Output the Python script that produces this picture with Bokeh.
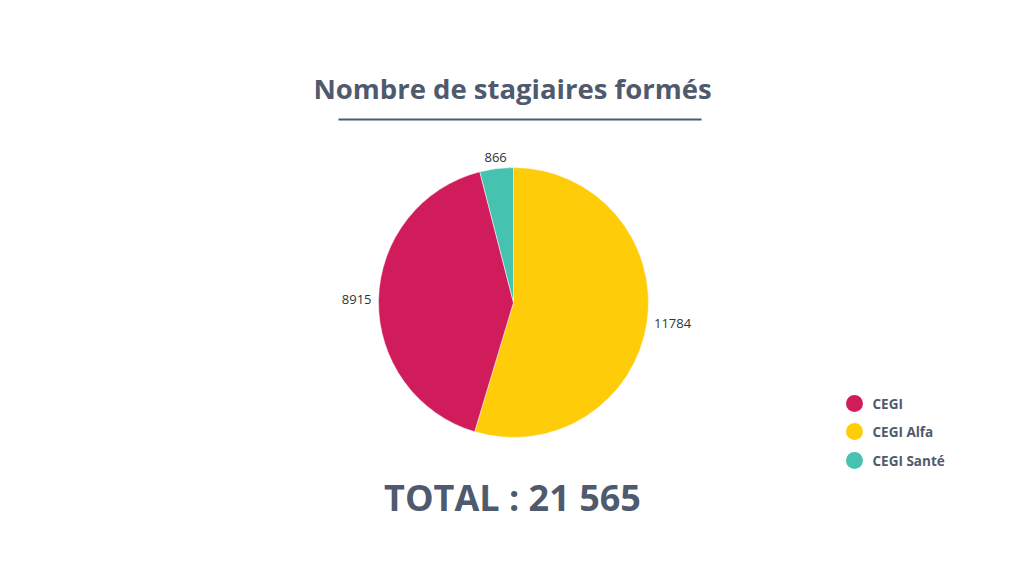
import numpy as np
from bokeh.plotting import figure
from bokeh.models import Range1d, ColumnDataSource
from bokeh.core.properties import value
from bokeh.embed import file_html
from bokeh.resources import INLINE

# ---- data ----
categories = ["CEGI", "CEGI Alfa", "CEGI Santé"]
counts = [8915, 11784, 866]
colors = ["#D01C5B", "#FFCC0A", "#46C2B0"]
# drawing order clockwise from 12 o'clock
pie_order = ["CEGI Alfa", "CEGI", "CEGI Santé"]
title_text = "Nombre de stagiaires formés"
total_text = "TOTAL : 21 565"

W, H = 1008, 560
TXT = "#4F5A6E"
FONT = "Open Sans"

p = figure(width=W, height=H, output_backend="svg", toolbar_location=None,
           x_range=Range1d(0, W), y_range=Range1d(0, H), min_border=0)
p.axis.visible = False
p.grid.visible = False
p.outline_line_color = None
p.background_fill_color = "white"
p.border_fill_color = "white"

def Y(page_y):
    return H - page_y

def X(page_x):
    return page_x

cx, cy, R = X(513), Y(302), 135

vals = np.array([counts[categories.index(c)] for c in pie_order], dtype=float)
cols = [colors[categories.index(c)] for c in pie_order]
frac = vals / vals.sum()
cum = np.concatenate([[0], np.cumsum(frac)])
start = np.pi / 2 - cum[:-1] * 2 * np.pi
end = np.pi / 2 - cum[1:] * 2 * np.pi

src = ColumnDataSource(dict(start=start, end=end, color=cols))
p.wedge(x=cx, y=cy, radius=R, radius_units="screen", start_angle="start", end_angle="end",
        direction="clock", fill_color="color", line_color="white", line_width=0.5, source=src)

# value labels
mid = (start + end) / 2
LR = R + 7
lx = cx + LR * np.cos(mid)
ly = cy + LR * np.sin(mid)
aligns = []
for m in mid:
    c = np.cos(m)
    if c > 0.3:
        aligns.append("left")
    elif c < -0.3:
        aligns.append("right")
    else:
        aligns.append("center")
bases = ["bottom" if np.sin(m) > 0.7 else "middle" for m in mid]
lab = ColumnDataSource(dict(x=lx, y=ly, t=[str(int(v)) for v in vals], a=aligns, b=bases))
p.text(x="x", y="y", text="t", text_align="a", text_baseline="b", source=lab,
       text_font=value(FONT), text_font_size="13px", text_color="#333333")

# title
p.text(x=[X(512)], y=[Y(88)], text=[title_text], text_align="center", text_baseline="middle",
       text_font=value(FONT), text_font_size="27.5px", text_font_style="bold", text_color=TXT)
p.line(x=[X(338), X(701)], y=[Y(119), Y(119)], line_color=TXT, line_width=2)

# total
p.text(x=[X(512)], y=[Y(497)], text=[total_text], text_align="center", text_baseline="middle",
       text_font=value(FONT), text_font_size="36px", text_font_style="bold", text_color=TXT)

# legend
ly0 = [Y(403), Y(431), Y(460)]
leg = ColumnDataSource(dict(x=[X(854)] * 3, y=ly0, tx=[X(872)] * 3, t=categories, c=colors))
p.scatter(x="x", y="y", size=17, marker="circle", fill_color="c", line_color=None, source=leg)
p.text(x="tx", y="y", text="t", text_align="left", text_baseline="middle", source=leg,
       text_font=value(FONT), text_font_size="13.5px", text_font_style="bold", text_color=TXT)

open("out.html", "w").write(file_html(p, INLINE))
